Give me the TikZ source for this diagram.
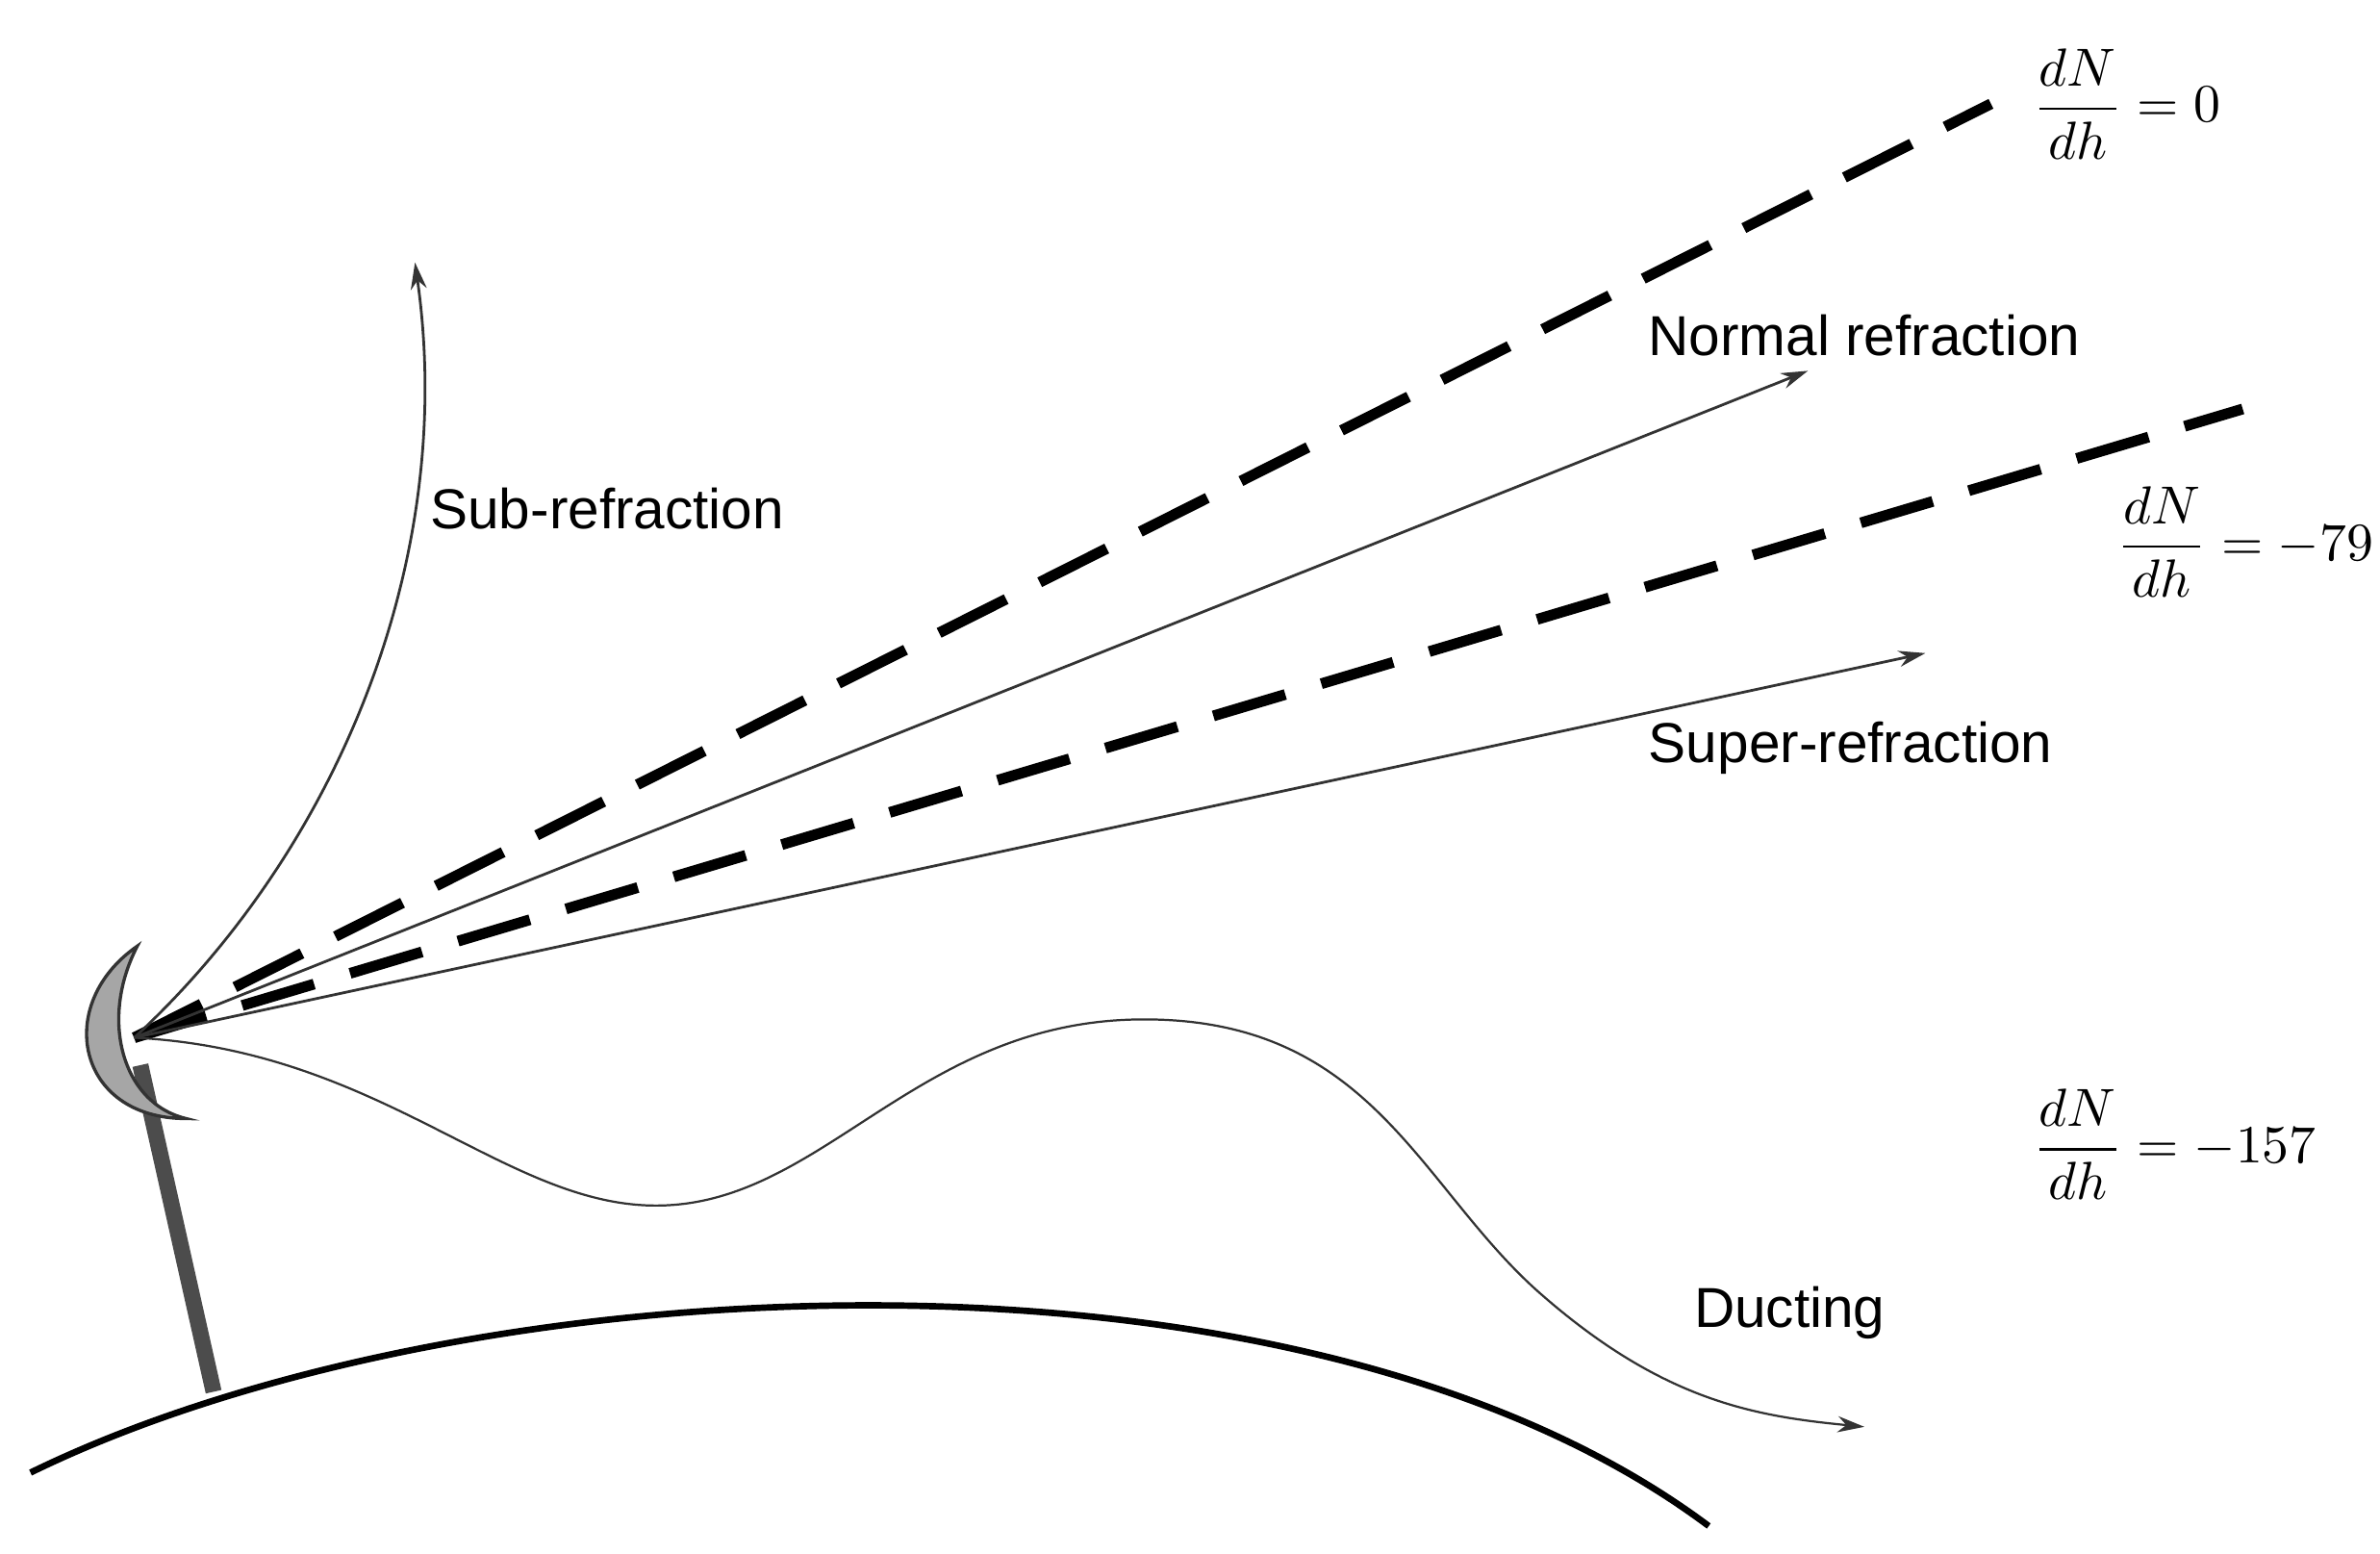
\documentclass[tikz,border=0pt]{standalone}
\usepackage{amsmath}
\usepackage{fontspec}
\setmainfont{Liberation Sans}
\usetikzlibrary{arrows.meta}
\tikzset{
    ray/.style={line width=0.5pt,draw=black!80,-{Stealth[length=5pt,width=3pt]}},
    path/.style={line width=2pt,dash pattern=on 14pt off 7pt},
    lbl/.style={font=\fontsize{10.5}{13}\selectfont},
    eqn/.style={font=\fontsize{10}{12}\selectfont}
}
\begin{document}
\begin{tikzpicture}[]
    \useasboundingbox (0,0) rectangle (15.6,10.18);

    % draw earth surface
    \draw[line width=1.2pt] (0.2,0.53) .. controls (3.0,1.9) and (8.5,2.2) .. (11.2,0.18);

    % draw antenna
    \coordinate (src) at (0.88,3.38);
    \coordinate (foot) at (1.40,1.06);
    \draw[line width=3pt,gray!60!black] (foot) -- (0.92,3.20);
    \draw[fill=gray!70,draw=gray!40!black,line width=0.6pt] (0.90,3.98)
        .. controls (0.35,3.60) and (0.50,2.85) .. (1.22,2.85)
        .. controls (0.80,2.95) and (0.65,3.50) .. cycle;

    % draw end points
    \coordinate (zero) at (13.05,9.50);
    \coordinate (normal) at (11.85,7.75);
    \coordinate (crit) at (14.70,7.50);
    \coordinate (super) at (12.62,5.90);
    \coordinate (sub) at (2.72,8.46);
    \coordinate (duct) at (12.22,0.83);

    % draw rays
    \draw[path] (src) -- (zero);
    \draw[path] (src) -- (crit);
    \draw[ray] (src) -- (normal);
    \draw[ray] (src) -- (super);
    \draw[ray] (src) .. controls (2.2,4.6) and (3.0,6.5) .. (sub);
    \draw[ray,line width=0.4pt] (src) .. controls (2.5,3.30) and (3.3,2.28) .. (4.30,2.28)
        .. controls (5.40,2.28) and (6.00,3.50) .. (7.50,3.50)
        .. controls (9.00,3.50) and (9.30,2.40) .. (10.10,1.70)
        .. controls (10.90,1.00) and (11.50,0.90) .. (duct);

    % draw labels
    \node[lbl] (lsub) at (3.98,6.85) {Sub-refraction};
    \node[lbl] (lnormal) at (12.22,7.98) {Normal refraction};
    \node[lbl] (lsuper) at (12.13,5.28) {Super-refraction};
    \node[lbl] (lduct) at (11.73,1.58) {Ducting};
    \node[eqn,anchor=west] (ezero) at (13.20,9.50) {$\dfrac{dN}{dh}=0$};
    \node[eqn,anchor=west] (ecrit) at (13.75,6.63) {$\dfrac{dN}{dh}=-79$};
    \node[eqn,anchor=west] (educt) at (13.20,2.68) {$\dfrac{dN}{dh}=-157$};
\end{tikzpicture}
\end{document}
